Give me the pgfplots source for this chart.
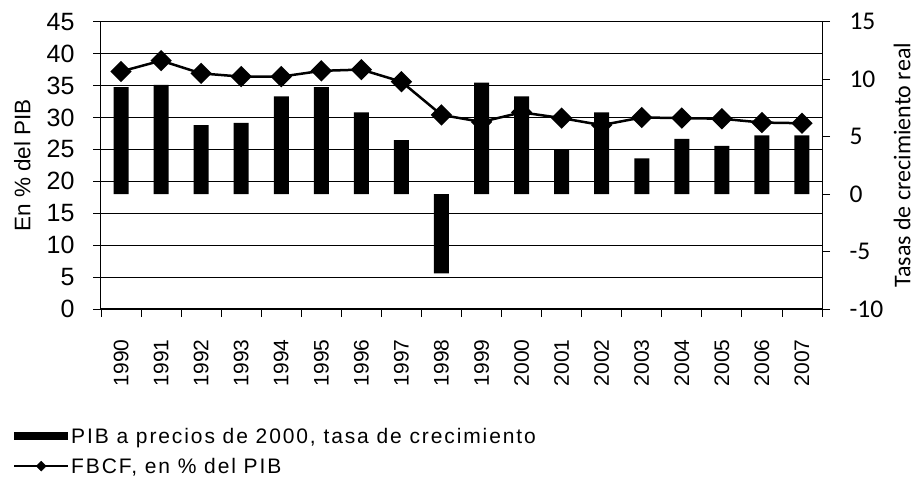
\documentclass[border=0pt]{standalone}
\usepackage{fontspec}
\setmainfont{Liberation Sans}
\newfontfamily\calibri{Carlito}
\newfontfamily\legendfont{Liberation Sans}[LetterSpace=9]
\usepackage{pgfplots}
\pgfplotsset{compat=1.18}
\begin{document}
\begin{tikzpicture}[x=1pt,y=1pt]
\path[use as bounding box] (0,0) rectangle (919,484);
\begin{axis}[
  at={(101pt,175pt)}, anchor=south west,
  scale only axis, width=721pt, height=287.3pt,
  xmin=-0.5, xmax=17.5, ymin=0, ymax=45,
  axis y line*=left, axis x line*=bottom,
  axis line style={-, black, line width=1pt},
  tick align=outside, major tick length=8pt,
  tick style={black, line width=0.8pt},
  ytick={0,5,...,45},
  yticklabel style={font=\fontsize{25}{27}\selectfont, xshift=-15pt},
  /pgf/number format/assume math mode=true,
  ymajorgrids, grid style={black, line width=0.8pt},
  xtick={-0.5,0.5,...,17.5}, xticklabels={},
  extra x ticks={0,1,...,17},
  extra x tick labels={1990,1991,1992,1993,1994,1995,1996,1997,1998,1999,2000,2001,2002,2003,2004,2005,2006,2007},
  extra x tick style={major tick length=0pt, grid=none,
     xticklabel style={rotate=90, anchor=east, font=\fontsize{21}{23}\selectfont, xshift=-27pt}},
  ylabel={En \% del PIB},
  ylabel style={at={(axis description cs:-0.109,0.5)}, anchor=center, font=\fontsize{22.5}{24}\selectfont},
]
\addplot[black, line width=2.5pt, mark=square*, mark size=6.3pt, mark options={rotate=45, solid}] coordinates {
(0,37.2) (1,38.9) (2,36.9) (3,36.4) (4,36.4) (5,37.3) (6,37.5) (7,35.6) (8,30.4)
(9,29.3) (10,30.8) (11,29.9) (12,28.8) (13,30.0) (14,29.9) (15,29.8) (16,29.2) (17,29.1)};
\end{axis}
\begin{axis}[
  at={(101pt,175pt)}, anchor=south west,
  scale only axis, width=721pt, height=287.3pt,
  xmin=-0.5, xmax=17.5, ymin=-10, ymax=15,
  axis y line*=right, axis x line=none,
  axis line style={-, black, line width=1pt},
  tick align=outside, major tick length=8pt,
  tick style={black, line width=0.8pt},
  ytick={-10,-5,...,15},
  yticklabel style={font=\calibri\fontsize{25.5}{27}\selectfont, xshift=16pt},
  /pgf/number format/assume math mode=true,
  ylabel={Tasas de crecimiento real},
  ylabel style={at={(axis description cs:1.111,0.5)}, anchor=center, font=\calibri\fontsize{24}{26}\selectfont},
  legend style={at={(axis description cs:-0.122,-0.40)}, anchor=north west, draw=none, fill=none,
    font=\legendfont\fontsize{21}{23}\selectfont, row sep=9pt, inner xsep=0pt},
  legend cell align=left,
]
\addplot[ybar, bar width=15pt, fill=black, draw=none,
  legend image code/.code={\fill[black] (0pt,-4pt) rectangle (54pt,4pt);}] coordinates {
(0,9.3) (1,9.5) (2,6.0) (3,6.2) (4,8.5) (5,9.3) (6,7.1) (7,4.7) (8,-6.9)
(9,9.7) (10,8.5) (11,3.9) (12,7.1) (13,3.1) (14,4.8) (15,4.2) (16,5.1) (17,5.1)};
\addlegendentry{PIB a precios de 2000, tasa de crecimiento}
\addlegendimage{legend image code/.code={\draw[black,line width=2pt] (0pt,0pt) -- (54pt,0pt);
  \fill[black] (27pt,0pt) +(0,5pt) -- +(5pt,0) -- +(0,-5pt) -- +(-5pt,0) -- cycle;}}
\addlegendentry{FBCF, en \% del PIB}
\end{axis}
\end{tikzpicture}
\end{document}
